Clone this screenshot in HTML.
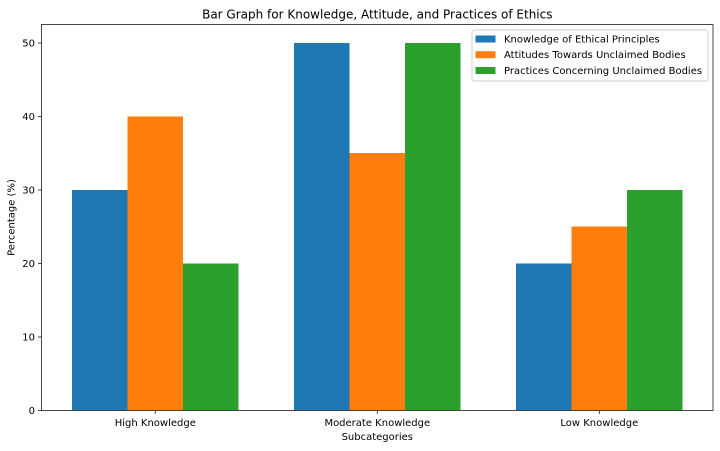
<!DOCTYPE html>
<html>
<head>
<meta charset="utf-8">
<style>
html,body{margin:0;padding:0;background:#fff;}
svg{display:block;}
text{font-family:"DejaVu Sans","Liberation Sans",sans-serif;fill:#000;}
</style>
</head>
<body>
<svg width="720" height="451" viewBox="0 0 720 451" xmlns="http://www.w3.org/2000/svg">
<rect width="720" height="451" fill="#fff"/>
<!-- bars -->
<g shape-rendering="crispEdges">
<rect x="72" y="189.94" width="55.5" height="220.56" fill="#1f77b4"/>
<rect x="127.5" y="116.42" width="55.5" height="294.08" fill="#ff7f0e"/>
<rect x="183" y="263.46" width="55.5" height="147.04" fill="#2ca02c"/>
<rect x="294" y="42.9" width="55.5" height="367.6" fill="#1f77b4"/>
<rect x="349.5" y="153.18" width="55.5" height="257.32" fill="#ff7f0e"/>
<rect x="405" y="42.9" width="55.5" height="367.6" fill="#2ca02c"/>
<rect x="516" y="263.46" width="55.5" height="147.04" fill="#1f77b4"/>
<rect x="571.5" y="226.7" width="55.5" height="183.8" fill="#ff7f0e"/>
<rect x="627" y="189.94" width="55.5" height="220.56" fill="#2ca02c"/>
</g>
<!-- axes frame -->
<rect x="41.5" y="24.5" width="671.5" height="386" fill="none" stroke="#333" stroke-width="0.9"/>
<!-- ticks -->
<g stroke="#333" stroke-width="0.9">
<line x1="38" y1="410.5" x2="41.5" y2="410.5"/>
<line x1="38" y1="337" x2="41.5" y2="337"/>
<line x1="38" y1="263.5" x2="41.5" y2="263.5"/>
<line x1="38" y1="190" x2="41.5" y2="190"/>
<line x1="38" y1="116.5" x2="41.5" y2="116.5"/>
<line x1="38" y1="43" x2="41.5" y2="43"/>
<line x1="155.3" y1="410.5" x2="155.3" y2="414"/>
<line x1="377.3" y1="410.5" x2="377.3" y2="414"/>
<line x1="599.3" y1="410.5" x2="599.3" y2="414"/>
</g>
<g font-size="10" text-anchor="end">
<text x="35" y="414">0</text>
<text x="35" y="340.5">10</text>
<text x="35" y="267">20</text>
<text x="35" y="193.5">30</text>
<text x="35" y="120">40</text>
<text x="35" y="46.5">50</text>
</g>
<g font-size="10" text-anchor="middle">
<text x="155.3" y="426">High Knowledge</text>
<text x="377.3" y="426">Moderate Knowledge</text>
<text x="599.3" y="426">Low Knowledge</text>
<text x="377.3" y="440">Subcategories</text>
</g>
<text x="0" y="0" font-size="10" text-anchor="middle" transform="translate(14.5,217.5) rotate(-90)">Percentage (%)</text>
<text x="377.3" y="18.5" font-size="12" text-anchor="middle">Bar Graph for Knowledge, Attitude, and Practices of Ethics</text>
<!-- legend -->
<rect x="472" y="30" width="236" height="51" rx="2.5" ry="2.5" fill="#fff" fill-opacity="0.8" stroke="#ccc" stroke-width="0.9"/>
<rect x="475.5" y="35.5" width="20" height="7" fill="#1f77b4"/>
<rect x="475.5" y="51.2" width="20" height="7" fill="#ff7f0e"/>
<rect x="475.5" y="67" width="20" height="7" fill="#2ca02c"/>
<g font-size="10">
<text x="504" y="42.5">Knowledge of Ethical Principles</text>
<text x="504" y="58.2">Attitudes Towards Unclaimed Bodies</text>
<text x="504" y="74">Practices Concerning Unclaimed Bodies</text>
</g>
</svg>
</body>
</html>
